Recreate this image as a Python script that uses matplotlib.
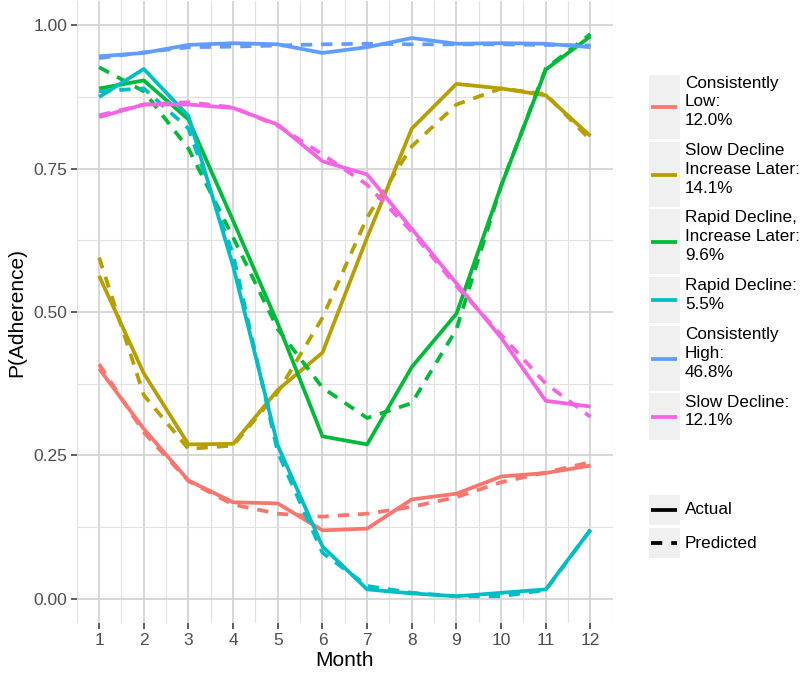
import matplotlib.pyplot as plt
from matplotlib.patches import Rectangle

plt.rcParams['font.family'] = ['Liberation Sans', 'DejaVu Sans']

months = list(range(1, 13))

groups = ['Consistently\nLow:\n12.0%', 'Slow Decline\nIncrease Later:\n14.1%',
          'Rapid Decline,\nIncrease Later:\n9.6%', 'Rapid Decline:\n5.5%',
          'Consistently\nHigh:\n46.8%', 'Slow Decline:\n12.1%']
colors = ['#F8766D', '#B79F00', '#00BA38', '#00BFC4', '#619CFF', '#F564E3']

low_actual = [0.401, 0.296, 0.206, 0.168, 0.166, 0.119, 0.122, 0.173, 0.183, 0.213, 0.219, 0.232]
low_pred = [0.409, 0.290, 0.205, 0.164, 0.148, 0.143, 0.148, 0.160, 0.177, 0.203, 0.220, 0.238]
sdil_actual = [0.563, 0.393, 0.269, 0.270, 0.364, 0.429, 0.630, 0.820, 0.898, 0.890, 0.878, 0.807]
sdil_pred = [0.595, 0.355, 0.261, 0.267, 0.360, 0.490, 0.665, 0.789, 0.862, 0.890, 0.880, 0.800]
rdil_actual = [0.890, 0.904, 0.836, 0.659, 0.480, 0.283, 0.269, 0.404, 0.497, 0.720, 0.923, 0.981]
rdil_pred = [0.927, 0.885, 0.785, 0.630, 0.470, 0.368, 0.315, 0.341, 0.470, 0.720, 0.925, 0.985]
rd_actual = [0.875, 0.924, 0.842, 0.580, 0.267, 0.091, 0.016, 0.009, 0.004, 0.010, 0.016, 0.120]
rd_pred = [0.885, 0.890, 0.820, 0.600, 0.255, 0.080, 0.022, 0.010, 0.004, 0.004, 0.015, 0.120]
high_actual = [0.946, 0.952, 0.966, 0.969, 0.967, 0.952, 0.962, 0.978, 0.968, 0.969, 0.968, 0.962]
high_pred = [0.943, 0.953, 0.962, 0.963, 0.965, 0.967, 0.968, 0.967, 0.967, 0.967, 0.966, 0.965]
sd_actual = [0.840, 0.862, 0.862, 0.856, 0.827, 0.763, 0.740, 0.645, 0.550, 0.455, 0.345, 0.335]
sd_pred = [0.843, 0.862, 0.866, 0.857, 0.825, 0.775, 0.722, 0.640, 0.545, 0.460, 0.375, 0.317]

actual = [low_actual, sdil_actual, rdil_actual, rd_actual, high_actual, sd_actual]
predicted = [low_pred, sdil_pred, rdil_pred, rd_pred, high_pred, sd_pred]

fig = plt.figure(figsize=(8, 6.73), dpi=100)
ax = fig.add_axes([0.096, 0.074, 0.67, 0.924])

lw = 2.7
dash = (3, 2.4)
for a, p, c in zip(actual, predicted, colors):
    ax.plot(months, a, color=c, lw=lw, solid_capstyle='butt', zorder=3)
    ax.plot(months, p, color=c, lw=lw, dashes=dash, dash_capstyle='butt', zorder=3)

ax.set_xlim(0.5, 12.5)
ax.set_ylim(-0.043, 1.042)
ax.set_xticks(months)
ax.set_xticks([m + 0.5 for m in range(0, 13)], minor=True)
ax.set_yticks([0, 0.25, 0.5, 0.75, 1.0])
ax.set_yticklabels(['0.00', '0.25', '0.50', '0.75', '1.00'])
ax.set_yticks([0.125, 0.375, 0.625, 0.875], minor=True)
ax.grid(which='major', color='#d4d4d4', lw=1.3, zorder=0)
ax.grid(which='minor', color='#e2e2e2', lw=0.8, zorder=0)
ax.set_axisbelow(True)
for s in ax.spines.values():
    s.set_visible(False)
ax.tick_params(which='major', length=4, width=1.1, color='#333333', labelcolor='#4d4d4d',
               labelsize=12.5, pad=3)
ax.tick_params(which='minor', length=0)
ax.set_xlabel('Month', fontsize=15, labelpad=2)
ax.set_ylabel('P(Adherence)', fontsize=15, labelpad=5)

# legend drawn in pixel coordinates
lg = fig.add_axes([0, 0, 1, 1])
lg.set_xlim(0, 800)
lg.set_ylim(673, 0)
lg.axis('off')
key_spans = [(75, 139), (142, 207), (209, 274), (277, 323), (326, 391), (393, 440)]
for (y0, y1), txt, c in zip(key_spans, groups, colors):
    lg.add_patch(Rectangle((649, y0), 31, y1 - y0, color='#f0f0f0', lw=0))
    ym = (y0 + y1) / 2
    lg.plot([651, 677], [ym, ym], color=c, lw=lw, solid_capstyle='butt')
    lg.text(685, ym - 5, txt, fontsize=12.3, va='center', ha='left', linespacing=1.3)

for (y0, y1), txt, ls in [((495, 525), 'Actual', '-'), ((528, 558), 'Predicted', '--')]:
    lg.add_patch(Rectangle((649, y0), 31, y1 - y0, color='#f0f0f0', lw=0))
    ym = (y0 + y1) / 2
    if ls == '-':
        lg.plot([651, 677], [ym, ym], color='black', lw=lw, solid_capstyle='butt')
    else:
        lg.plot([651, 677], [ym, ym], color='black', lw=lw, dashes=dash, dash_capstyle='butt')
    lg.text(685, ym, txt, fontsize=12.3, va='center', ha='left')

fig.savefig('out.png', dpi=100)
